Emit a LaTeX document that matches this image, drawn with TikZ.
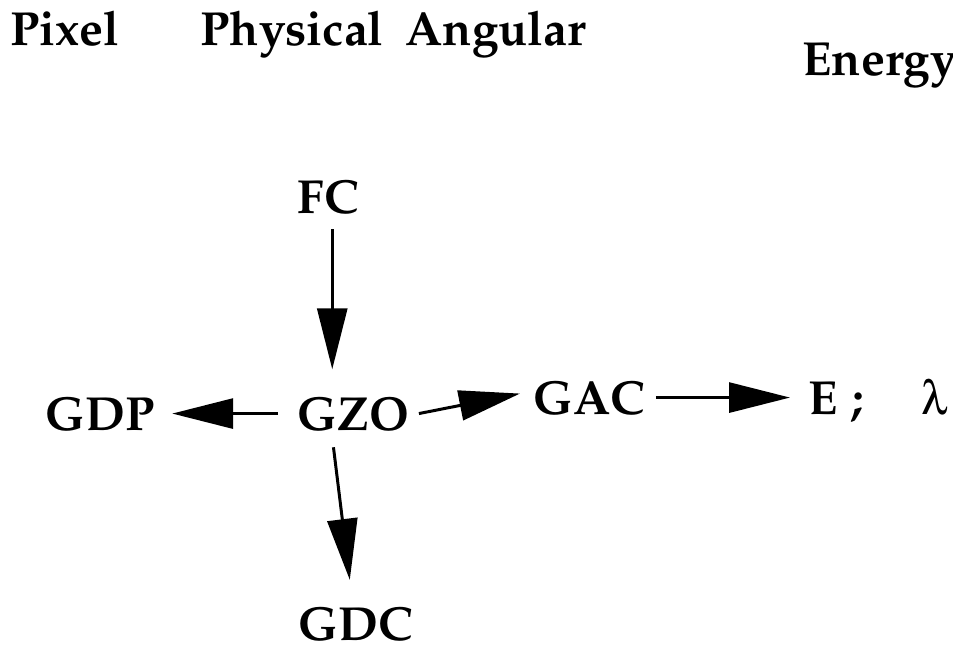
\documentclass[tikz,border=0pt]{standalone}
\usepackage[T1]{fontenc}
\usepackage{mathpazo}
\usepackage[Symbol]{upgreek}
\usepackage{tikz}
\usetikzlibrary{arrows.meta, positioning, calc}

\begin{document}
\begin{tikzpicture}[x=1cm, y=1cm,
    lbl/.style={anchor=base west, inner sep=0pt, font=\fontsize{13.6}{16}\selectfont\bfseries},
    arr/.style={line width=0.85pt, -{Triangle[length=0.61cm, width=0.30cm]}}]
    \useasboundingbox (0,0) rectangle (9.53,-6.51);
    % column headings
    \node[lbl] (pix) at (0.10,-0.45) {Pixel};
    \node[lbl] (phy) at (2.00,-0.45) {Physical};
    \node[lbl] (ang) at (4.05,-0.45) {Angular};
    \node[lbl] (ene) at (8.02,-0.75) {Energy};
    % labels
    \node[lbl] (fc) at (2.97,-2.13) {FC};
    \node[lbl] (gdp) at (0.45,-4.30) {GDP};
    \node[lbl] (gzo) at (2.97,-4.30) {GZO};
    \node[lbl] (gac) at (5.33,-4.14) {GAC};
    \node[lbl] (en) at (8.08,-4.14) {E\hspace{0.14cm};\hspace{0.58cm}\textmd{$\uplambda$}};
    \node[lbl] (gdc) at (2.98,-6.40) {GDC};
    % arrows
    \draw[arr] ($(fc.south)+(0.04,-0.15)$) -- ($(fc.south)+(0.04,-1.55)$);
    \draw[arr] ($(gzo.west)+(-0.19,0)$) -- ($(gdp.east)+(0.17,0)$);
    \draw[arr] ($(gzo.east)+(0.09,0)$) -- ($(gac.west)+(-0.13,0.04)$);
    \draw[arr] ($(gac.east)+(0.10,0)$) -- ($(gac.east -| en.west)+(-0.18,0)$);
    \draw[arr] ($(gzo.south)+(-0.20,-0.16)$) -- ($(gdc.north)+(-0.06,0.26)$);
\end{tikzpicture}
\end{document}
